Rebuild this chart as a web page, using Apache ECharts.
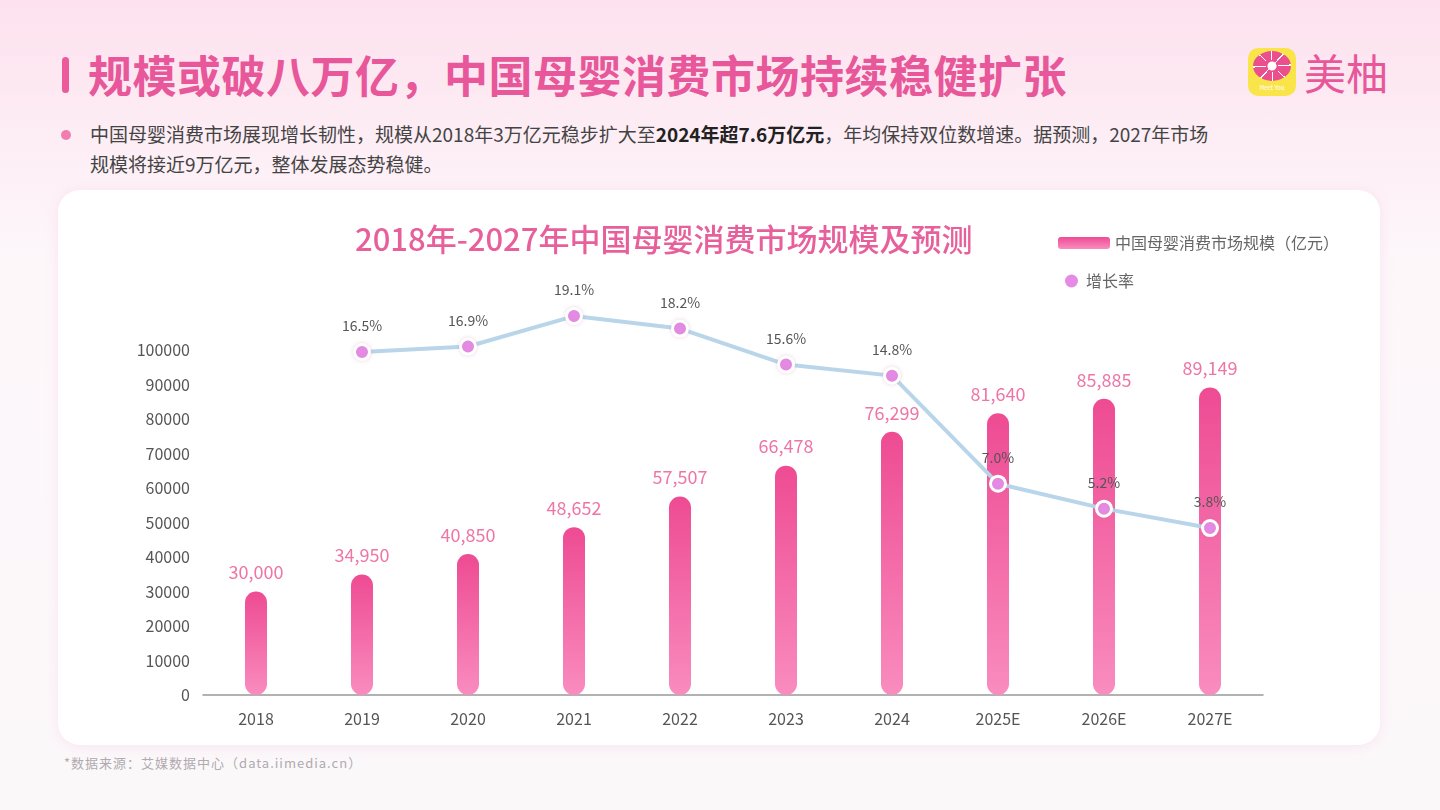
<!DOCTYPE html>
<html>
<head>
<meta charset="utf-8">
<script src="https://cdn.jsdelivr.net/npm/echarts@6/dist/echarts.min.js"></script>
<style>
  html, body { margin: 0; padding: 0; }
  body {
    width: 1440px; height: 810px; overflow: hidden; position: relative;
    font-family: "Noto Sans CJK SC", "Noto Sans", sans-serif;
    background: linear-gradient(180deg, #fde1ee 0%, #fdeef5 18%, #fdf7fa 32%, #fbf8fa 100%);
  }
  .bar-mark { position: absolute; left: 62px; top: 57px; width: 7px; height: 36px; border-radius: 4px; background: #ec5a9c; }
  .head { position: absolute; left: 88px; top: 44px; font-size: 44px; font-weight: 700; color: #e8579a; letter-spacing: 0.5px; line-height: 60px; }
  .dot { position: absolute; left: 61px; top: 130px; width: 10px; height: 10px; border-radius: 50%; background: #f07fb0; }
  .desc { position: absolute; left: 90px; top: 119px; font-size: 19px; color: #444; line-height: 30px; }
  .desc b { color: #222; }
  .card { position: absolute; left: 58px; top: 190px; width: 1322px; height: 555px; border-radius: 22px; background: #fff; box-shadow: 0 2px 14px rgba(240, 150, 190, 0.18); }
  .logo { position: absolute; left: 1248px; top: 48px; width: 48px; height: 48px; border-radius: 10px; background: #f9e54a; overflow: hidden; }
  .flower { position: absolute; left: 5px; top: 3px; width: 38px; height: 30px; border-radius: 50%;
    background: radial-gradient(circle, #fff 0 4px, transparent 5px), repeating-conic-gradient(#ec4f8e 0 40deg, #fff 40deg 45deg); }
  .logo span { position: absolute; left: 0; right: 0; bottom: 4px; text-align: center; font-size: 6px; color: #fff; }
  .brand { position: absolute; left: 1304px; top: 44px; font-size: 42px; color: #e8579a; line-height: 56px; }
  .foot { position: absolute; left: 64px; top: 753px; font-size: 13px; letter-spacing: 1px; color: #b0aab0; }
  #chart { position: absolute; left: 0; top: 0; width: 1440px; height: 810px; }
</style>
</head>
<body>
<div class="bar-mark"></div>
<div class="head">规模或破八万亿，中国母婴消费市场持续稳健扩张</div>
<div class="dot"></div>
<div class="desc">中国母婴消费市场展现增长韧性，规模从2018年3万亿元稳步扩大至<b>2024年超7.6万亿元</b>，年均保持双位数增速。据预测，2027年市场<br>规模将接近9万亿元，整体发展态势稳健。</div>
<div class="logo"><div class="flower"></div><span>Meet You</span></div>
<div class="brand">美柚</div>
<div class="card"></div>
<div class="foot">*数据来源：艾媒数据中心（data.iimedia.cn）</div>
<div id="chart"></div>
<script>
// 年份
var years = ['2018', '2019', '2020', '2021', '2022', '2023', '2024', '2025E', '2026E', '2027E'];
// 市场规模（亿元）
var marketSize = [30000, 34950, 40850, 48652, 57507, 66478, 76299, 81640, 85885, 89149];
// 增长率（%），2018 无数据
var growthRate = ['-', 16.5, 16.9, 19.1, 18.2, 15.6, 14.8, 7.0, 5.2, 3.8];

var sizeName = '中国母婴消费市场规模（亿元）';
var rateName = '增长率';

var chart = echarts.init(document.getElementById('chart'));

var barColor = new echarts.graphic.LinearGradient(0, 0, 0, 1, [
  { offset: 0, color: '#ee4b93' },
  { offset: 1, color: '#f98cbe' }
]);

chart.setOption({
  animation: false,
  textStyle: { fontFamily: '"Noto Sans CJK SC", "Noto Sans", sans-serif' },
  graphic: [{
    type: 'text',
    left: 355,
    top: 224,
    style: {
      text: '2018年-2027年中国母婴消费市场规模及预测',
      fill: '#e8609b',
      fontSize: 31,
      fontWeight: 500,
      fontFamily: '"Noto Sans CJK SC", sans-serif'
    }
  }],
  legend: [{
    data: [sizeName],
    left: 1053,
    top: 230,
    itemWidth: 52,
    itemHeight: 12,
    textStyle: { color: '#666', fontSize: 16 }
  }, {
    data: [{ name: rateName, icon: 'circle' }],
    left: 1060,
    top: 268,
    itemWidth: 13,
    itemHeight: 13,
    itemStyle: { borderWidth: 0 },
    textStyle: { color: '#666', fontSize: 16, padding: [0, 0, 0, 3] }
  }],
  grid: { left: 203, right: 177, top: 350, bottom: 115 },
  xAxis: {
    type: 'category',
    data: years,
    axisLine: { lineStyle: { color: '#999', width: 1.5 } },
    axisTick: { show: false },
    axisLabel: { color: '#555', fontSize: 16, margin: 16 }
  },
  yAxis: [{
    type: 'value',
    min: 0,
    max: 100000,
    interval: 10000,
    splitLine: { show: false },
    axisLine: { show: false },
    axisTick: { show: false },
    axisLabel: {
      color: '#555',
      fontSize: 16,
      margin: 13,
      formatter: function (v) { return String(v); }
    }
  }, {
    type: 'value',
    min: -8.25,
    max: 16.65,
    show: false,
    splitLine: { show: false }
  }],
  series: [{
    name: sizeName,
    type: 'bar',
    data: marketSize,
    barWidth: 22,
    itemStyle: { color: barColor, borderRadius: 11 },
    label: {
      show: true,
      position: 'top',
      distance: 10,
      color: '#ee75a6',
      fontSize: 18,
      formatter: function (p) { return String(p.value).replace(/\B(?=(\d{3})+(?!\d))/g, ','); }
    }
  }, {
    name: rateName,
    type: 'line',
    yAxisIndex: 1,
    data: growthRate,
    clip: false,
    z: 5,
    symbol: 'circle',
    symbolSize: 15,
    lineStyle: { color: '#b9d5ea', width: 4 },
    itemStyle: {
      color: '#e58be6',
      borderColor: '#fff',
      borderWidth: 3,
      shadowColor: 'rgba(200, 120, 170, 0.25)',
      shadowBlur: 4
    },
    label: {
      show: true,
      position: 'top',
      distance: 10,
      color: '#555',
      fontSize: 14,
      formatter: function (p) { return p.value.toFixed(1) + '%'; }
    }
  }]
});
</script>
</body>
</html>
